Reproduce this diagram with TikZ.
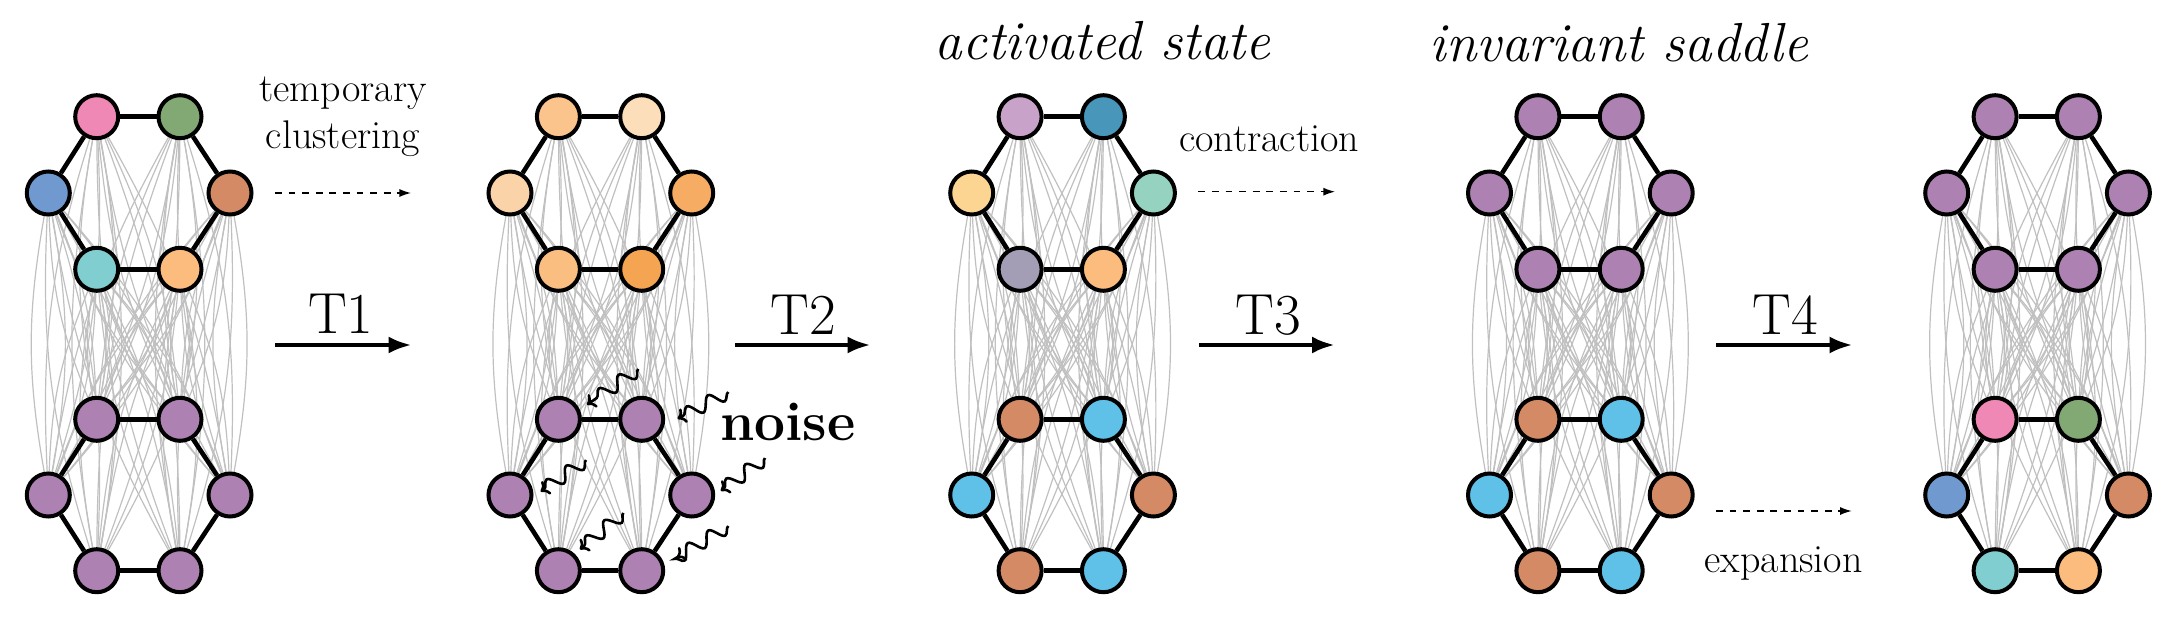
\documentclass[tikz,border=0pt]{standalone}
\usepackage{fontspec}
\usetikzlibrary{arrows.meta,backgrounds,decorations.pathmorphing}
\usepackage{xcolor}
\definecolor{nodepink}{RGB}{239,136,180}
\definecolor{nodegreen}{RGB}{130,168,116}
\definecolor{nodeblue}{RGB}{112,154,207}
\definecolor{nodebrown}{RGB}{212,138,100}
\definecolor{nodecyan}{RGB}{128,206,208}
\definecolor{nodepeach}{RGB}{251,188,125}
\definecolor{nodepurple}{RGB}{173,129,177}
\definecolor{nodesky}{RGB}{95,192,232}
\definecolor{orA}{RGB}{250,196,140}
\definecolor{orB}{RGB}{252,222,186}
\definecolor{orC}{RGB}{251,211,168}
\definecolor{orD}{RGB}{246,172,98}
\definecolor{orE}{RGB}{249,190,128}
\definecolor{orF}{RGB}{245,165,82}
\definecolor{actA}{RGB}{200,162,200}
\definecolor{actB}{RGB}{72,150,186}
\definecolor{actC}{RGB}{253,213,147}
\definecolor{actD}{RGB}{150,210,192}
\definecolor{actE}{RGB}{163,158,182}
\definecolor{linkgray}{RGB}{192,192,192}

% one network: #1 name, #2 left x, #3 the twelve fill colours
\newcommand{\drawnet}[3]{%
  \foreach \col [count=\k] in {#3} {
    \pgfmathsetmacro\dx{{48.4,131.7,0,181.7,48.4,131.7,48.4,131.7,0,181.7,48.4,131.7}[\k-1]}
    \pgfmathsetmacro\dy{{116.7,116.7,193,193,269.3,269.3,419.3,419.3,495,495,570.7,570.7}[\k-1]}
    \node[netnode, fill=\col] (#1\k) at (#2+\dx,\dy) {};
  }
  \begin{scope}[on background layer]
    \foreach \i in {1,...,6} \foreach \j in {7,...,12} {
      \draw[netlink] (#1\i) to[bend left=10] (#1\j);
      \draw[netlink] (#1\i) to[bend right=10] (#1\j);
    }
    \foreach \a/\b in {1/2,1/3,2/4,3/5,4/6,5/6,7/8,7/9,8/10,9/11,10/12,11/12}
      \draw[hexedge] (#1\a) -- (#1\b);
  \end{scope}
}

\begin{document}
\begin{tikzpicture}[x=0.5pt, y=-0.5pt,
  netnode/.style={circle, draw=black, line width=2pt, minimum size=21.5pt, inner sep=0pt},
  netlink/.style={draw=linkgray, line width=0.6pt},
  hexedge/.style={draw=black, line width=2.3pt},
  trans/.style={line width=2.3pt, -{Latex[length=11.5pt,width=8.5pt]}},
  hint/.style={line width=0.65pt, dash pattern=on 3.4pt off 3.4pt, -{Latex[length=5.8pt,width=4pt]}},
  noisy/.style={line width=1.3pt, decorate,
    decoration={snake, amplitude=3.3pt, segment length=12pt, post length=5pt},
    -{To[length=4pt,width=8pt]}},
  tlabel/.style={inner sep=0pt, font=\fontsize{29}{35}\selectfont},
  small/.style={inner sep=0pt, font=\fontsize{20}{23.5}\selectfont, align=center},
  title/.style={inner sep=0pt, font=\fontsize{27.5}{33}\selectfont\itshape}]
\useasboundingbox (0,0) rectangle (2172,620);

\drawnet{a}{48.3}{nodepink,nodegreen,nodeblue,nodebrown,nodecyan,nodepeach,
  nodepurple,nodepurple,nodepurple,nodepurple,nodepurple,nodepurple}
\drawnet{b}{510}{orA,orB,orC,orD,orE,orF,
  nodepurple,nodepurple,nodepurple,nodepurple,nodepurple,nodepurple}
\drawnet{c}{971.7}{actA,actB,actC,actD,actE,nodepeach,
  nodebrown,nodesky,nodesky,nodebrown,nodebrown,nodesky}
\drawnet{d}{1489.5}{nodepurple,nodepurple,nodepurple,nodepurple,nodepurple,nodepurple,
  nodebrown,nodesky,nodesky,nodebrown,nodebrown,nodesky}
\drawnet{e}{1946.7}{nodepurple,nodepurple,nodepurple,nodepurple,nodepurple,nodepurple,
  nodepink,nodegreen,nodeblue,nodebrown,nodecyan,nodepeach}

% titles
\node[title, anchor=base] (act) at (1102.5,60) {activated state};
\node[title, anchor=base] (inv) at (1619,62) {invariant saddle};

% transitions
\coordinate (t1a) at (275,345);    \coordinate (t1b) at (411.7,345);
\coordinate (t2a) at (735,345);    \coordinate (t2b) at (870.7,345);
\coordinate (t3a) at (1199,345);   \coordinate (t3b) at (1335,345);
\coordinate (t4a) at (1716,345);   \coordinate (t4b) at (1852.7,345);
\draw[trans] (t1a) -- (t1b);
\draw[trans] (t2a) -- (t2b);
\draw[trans] (t3a) -- (t3b);
\draw[trans] (t4a) -- (t4b);
\node[tlabel, anchor=base] (t1lab) at (340.8,333) {T1};
\node[tlabel, anchor=base] (t2lab) at (803.3,334) {T2};
\node[tlabel, anchor=base] (t3lab) at (1268.3,334) {T3};
\node[tlabel, anchor=base] (t4lab) at (1785,334) {T4};

% dashed hints
\coordinate (h1a) at (275,193);    \coordinate (h1b) at (411,193);
\coordinate (h2a) at (1198.3,191.7); \coordinate (h2b) at (1335,191.7);
\coordinate (h3a) at (1716,511);   \coordinate (h3b) at (1851.7,511);
\draw[hint] (h1a) -- (h1b);
\draw[hint] (h2a) -- (h2b);
\draw[hint] (h3a) -- (h3b);
\node[small] (tmp) at (343,117) {temporary\\clustering};
\node[small, anchor=base] (con) at (1269,151.7) {contraction};
\node[small, anchor=base] (exp) at (1783.7,572.3) {expansion};

% noise kicks on the lower cluster
\node[inner sep=0pt, anchor=base, font=\fontsize{27.5}{33}\selectfont\bfseries] (noi) at (788,440) {noise};
\coordinate (nz1) at (638.3,369);
\coordinate (nz2) at (728.3,392);
\coordinate (nz3) at (586,460);
\coordinate (nz4) at (765,458);
\coordinate (nz5) at (623.3,512.9);
\coordinate (nz6) at (728.3,526);
\draw[noisy, shorten >=4.4pt] (nz1) -- (b7.24);
\draw[noisy, shorten >=7.5pt] (nz2) -- (b8.-16);
\draw[noisy, shorten >=4.4pt] (nz3) -- (b9.-4);
\draw[noisy, shorten >=3.5pt] (nz4) -- (b10.0);
\draw[noisy, shorten >=3.4pt] (nz5) -- (b11.46);
\draw[noisy, shorten >=7.3pt] (nz6) -- (b12.14);
\end{tikzpicture}
\end{document}
